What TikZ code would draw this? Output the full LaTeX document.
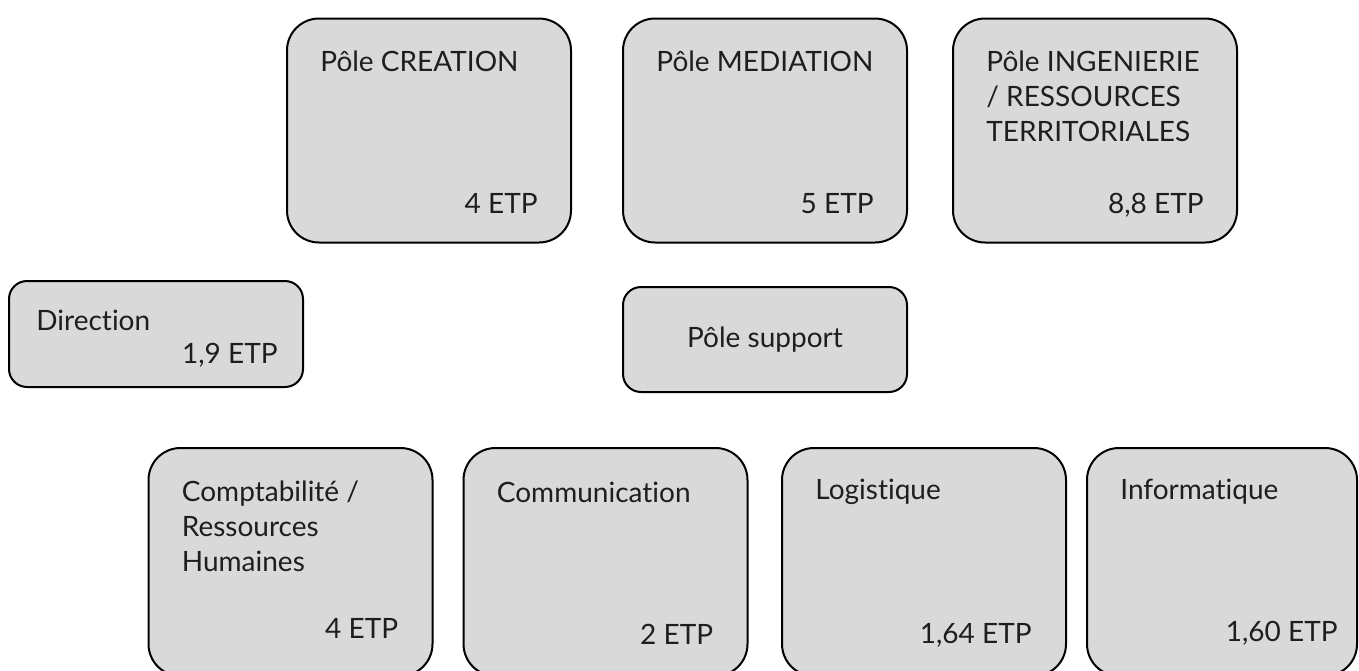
\documentclass[tikz,border=0pt]{standalone}
\usepackage{fontspec}
\setmainfont{Lato}[Ligatures=NoCommon]
\usepackage{tikz}

\definecolor{boxgray}{HTML}{D9D9D9}
\definecolor{txtgray}{HTML}{1E1E1E}

\begin{document}
\begin{tikzpicture}[x=0.5pt, y=0.5pt,
    pole/.style={draw=black, fill=boxgray, line width=1pt, rounded corners=16pt,
                 inner sep=0pt, minimum width=142pt, minimum height=112pt},
    service/.style={pole, minimum height=114pt},
    small/.style={pole, rounded corners=9pt, minimum height=53pt},
    txt/.style={text=txtgray, inner sep=0pt, font=\fontsize{14}{17.5}\selectfont},
    titre/.style={txt, anchor=base west, align=left},
    etp/.style={txt, anchor=base east}]

    % Frame of the picture (bottom row runs off the lower edge)
    \useasboundingbox (0,0) rectangle (1359,-670);

    % Top row: the three poles
    \node[pole] (crea) at (429,-130.5) {};
    \node[pole] (medi) at (765,-130.5) {};
    \node[pole] (inge) at (1095,-130.5) {};
    \node[titre] (crea-t) at ([shift={(34,-54)}]crea.north west) {Pôle CREATION};
    \node[titre] (medi-t) at ([shift={(34,-54)}]medi.north west) {Pôle MEDIATION};
    \node[titre] (inge-t) at ([shift={(34,-124)}]inge.north west) {Pôle INGENIERIE\\/ RESSOURCES\\TERRITORIALES}; % base = last line
    \node[etp] (crea-e) at ([shift={(-34,30)}]crea.south east) {4 ETP};
    \node[etp] (medi-e) at ([shift={(-34,30)}]medi.south east) {5 ETP};
    \node[etp] (inge-e) at ([shift={(-34,30)}]inge.south east) {8,8 ETP};

    % Middle row
    \node[small, minimum width=147pt] (dir) at (156,-334) {};
    \node[titre] (dir-t) at ([shift={(28,-50)}]dir.north west) {Direction};
    \node[etp] (dir-e) at ([shift={(-26,25)}]dir.south east) {1,9 ETP};
    \node[small, minimum height=52.5pt] (supp) at (765,-339.5) {};
    \node[txt] (supp-t) at (supp.center) {Pôle support};

    % Bottom row: support services
    \node[service] (compta) at (290.5,-562) {};
    \node[service] (comm) at (605.5,-562) {};
    \node[service] (logi) at (924,-562) {};
    \node[service, minimum width=135pt] (info) at (1222,-562) {};
    \node[titre] (compta-t) at ([shift={(34,-124)}]compta.north west) {Comptabilité /\\Ressources\\Humaines};
    \node[titre] (comm-t) at ([shift={(34,-55)}]comm.north west) {Communication};
    \node[titre] (logi-t) at ([shift={(34,-52)}]logi.north west) {Logistique};
    \node[titre] (info-t) at ([shift={(34,-52)}]info.north west) {Informatique};
    \node[etp] (compta-e) at ([shift={(-35,39)}]compta.south east) {4 ETP};
    \node[etp] (comm-e) at ([shift={(-35,33)}]comm.south east) {2 ETP};
    \node[etp] (logi-e) at ([shift={(-35,34)}]logi.south east) {1,64 ETP};
    \node[etp] (info-e) at ([shift={(-20,36)}]info.south east) {1,60 ETP};

\end{tikzpicture}
\end{document}
